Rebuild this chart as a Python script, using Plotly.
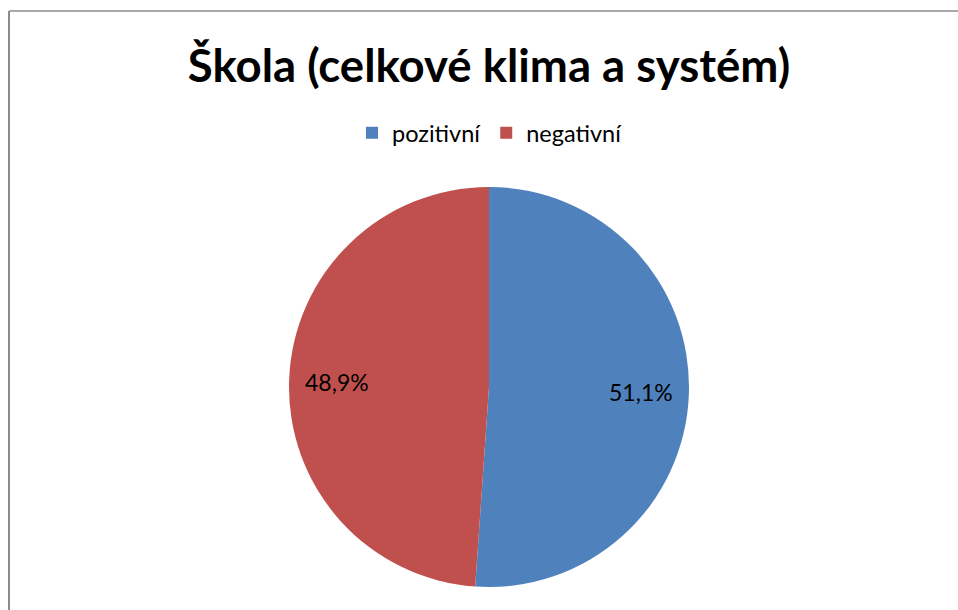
import math
import plotly.graph_objects as go

labels = ["pozitivní", "negativní"]
values = [51.1, 48.9]
colors = ["#4F81BD", "#C0504D"]
title_text = "Škola (celkové klima a systém)"

W, H = 958, 610
cx, cy, r = 489, 387, 200
FONT = "Lato, Open Sans, sans-serif"

fig = go.Figure(go.Pie(
    labels=labels,
    values=values,
    marker=dict(colors=colors, line=dict(width=0)),
    sort=False,
    direction="clockwise",
    rotation=0,
    textinfo="none",
    hoverinfo="label+percent",
    domain=dict(x=[(cx - r) / W, (cx + r) / W], y=[1 - (cy + r) / H, 1 - (cy - r) / H]),
))

# data labels placed along each slice's mid-angle at ~0.76 of the radius
annotations = []
total = sum(values)
start = 0.0
for v in values:
    mid = (start + v / 2) / total * 2 * math.pi
    start += v
    px = cx + 0.76 * r * math.sin(mid)
    py = cy - 0.76 * r * math.cos(mid)
    annotations.append(dict(
        x=px / W, y=1 - py / H, xref="paper", yref="paper",
        text=f"{v:.1f}%".replace(".", ","), showarrow=False,
        xanchor="center", yanchor="middle",
        font=dict(family=FONT, size=23, color="black"),
    ))

fig.update_layout(
    width=W, height=H,
    margin=dict(l=0, r=0, t=0, b=0),
    paper_bgcolor="white",
    showlegend=True,
    title=dict(text=title_text, x=489 / W, xanchor="center", y=1 - 66 / H, yanchor="middle",
               font=dict(family=FONT, size=45.5, color="black", weight="bold")),
    legend=dict(orientation="h", x=490 / W, xanchor="center", y=1 - 133 / H, yanchor="middle",
                font=dict(family=FONT, size=23.5, color="black"),
                itemclick=False, itemwidth=30),
    annotations=annotations,
    shapes=[
        dict(type="line", xref="paper", yref="paper", x0=9 / W, x1=1.05,
             y0=1 - 11 / H, y1=1 - 11 / H,
             line=dict(color="#8c8c8c", width=1.5)),
        dict(type="line", xref="paper", yref="paper", x0=9 / W, x1=9 / W,
             y0=1 - 11 / H, y1=-0.05,
             line=dict(color="#8c8c8c", width=2)),
    ],
)

fig.write_html("out.html", config={"displayModeBar": False},
               post_script="document.body.style.margin='0';document.body.style.overflow='hidden';")
